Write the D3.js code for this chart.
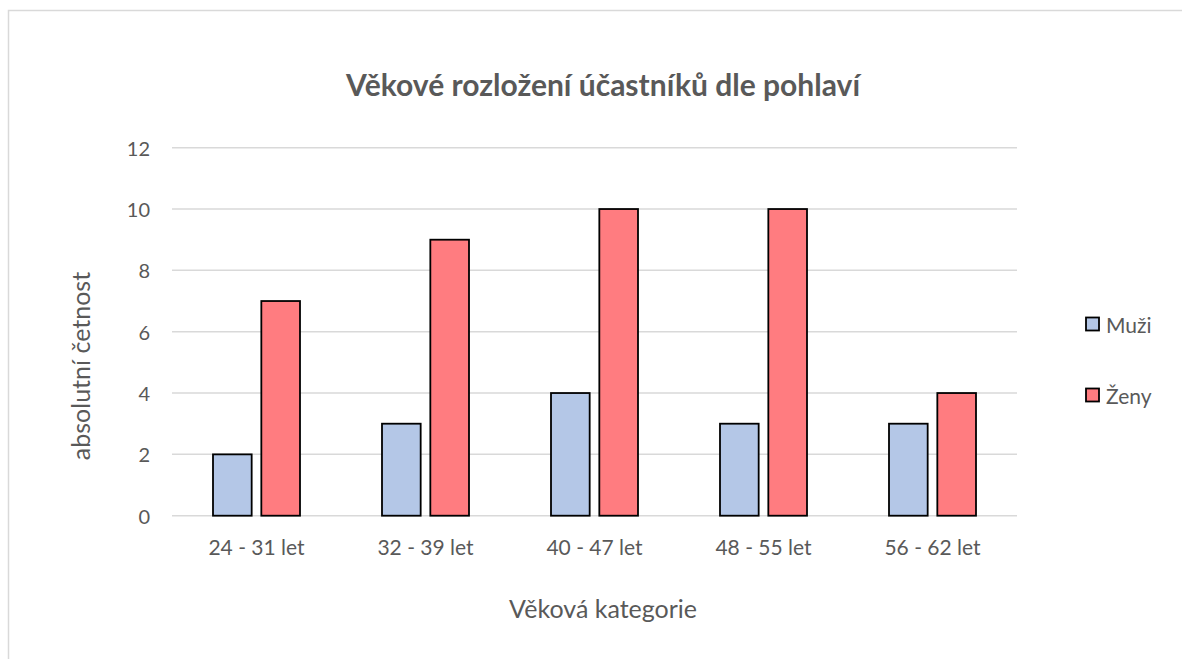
<!DOCTYPE html>
<html lang="cs">
<head>
<meta charset="UTF-8">
<title>Věkové rozložení účastníků dle pohlaví</title>
<style>
    body { margin: 0; background: #fff; }
    svg text { font-family: Lato, "Open Sans", sans-serif; fill: #595959; }
</style>
</head>
<body>
<div id="chart"></div>
<script src="https://d3js.org/d3.v7.min.js"></script>
<script>
    const categories = ["24 - 31 let", "32 - 39 let", "40 - 47 let", "48 - 55 let", "56 - 62 let"];
    const seriesNames = ["Muži", "Ženy"];
    const muzi = [2, 3, 4, 3, 3];
    const zeny = [7, 9, 10, 10, 4];
    const yTicks = [0, 2, 4, 6, 8, 10, 12];
    const colors = ["#B4C7E7", "#FF7C80"];

    const W = 1182, H = 659;
    const plot = { left: 172, right: 1017, top: 147.7, bottom: 515.7 };

    const svg = d3.select("#chart").append("svg")
        .attr("width", W).attr("height", H);

    // chart border (only top and left are visible in the original)
    svg.append("rect")
        .attr("x", 8.5).attr("y", 10.5)
        .attr("width", 1200).attr("height", 700)
        .attr("fill", "none").attr("stroke", "#d9d9d9").attr("stroke-width", 1.5);

    const x0 = d3.scaleBand().domain(categories).range([plot.left, plot.right]);
    const groupW = 87;
    const x1 = d3.scaleBand().domain(seriesNames).range([0, groupW]).paddingInner(0.2);
    const y = d3.scaleLinear().domain([0, 12]).range([plot.bottom, plot.top]);

    // gridlines
    svg.append("g").selectAll("line").data(yTicks).join("line")
        .attr("x1", plot.left).attr("x2", plot.right)
        .attr("y1", d => y(d)).attr("y2", d => y(d))
        .attr("stroke", "#d9d9d9").attr("stroke-width", 1.5);

    // y tick labels
    svg.append("g").selectAll("text").data(yTicks).join("text")
        .attr("x", 150).attr("y", d => y(d))
        .attr("text-anchor", "end").attr("dominant-baseline", "central")
        .style("font-size", "20px")
        .text(d => d);

    // bars
    const data = categories.map((c, i) => ({ cat: c, values: [muzi[i], zeny[i]] }));
    const groups = svg.append("g").selectAll("g").data(data).join("g")
        .attr("transform", d => "translate(" + (x0(d.cat) + (x0.bandwidth() - groupW) / 2) + ",0)");
    groups.selectAll("rect").data(d => d.values.map((v, j) => ({ s: seriesNames[j], v: v, j: j }))).join("rect")
        .attr("x", d => x1(d.s))
        .attr("y", d => y(d.v))
        .attr("width", x1.bandwidth())
        .attr("height", d => y(0) - y(d.v))
        .attr("fill", d => colors[d.j])
        .attr("stroke", "#000").attr("stroke-width", 1.8);

    // category labels
    svg.append("g").selectAll("text").data(categories).join("text")
        .attr("x", d => x0(d) + x0.bandwidth() / 2)
        .attr("y", 546)
        .attr("text-anchor", "middle").attr("dominant-baseline", "central")
        .style("font-size", "21px")
        .text(d => d);

    // title
    svg.append("text")
        .attr("x", 603).attr("y", 84)
        .attr("text-anchor", "middle").attr("dominant-baseline", "central")
        .style("font-size", "30px").style("font-weight", "bold")
        .text("Věkové rozložení účastníků dle pohlaví");

    // axis titles
    svg.append("text")
        .attr("x", 603).attr("y", 608)
        .attr("text-anchor", "middle").attr("dominant-baseline", "central")
        .style("font-size", "25px")
        .text("Věková kategorie");
    svg.append("text")
        .attr("transform", "translate(80,366) rotate(-90)")
        .attr("text-anchor", "middle").attr("dominant-baseline", "central")
        .style("font-size", "25px")
        .text("absolutní četnost");

    // legend
    const legend = svg.append("g").selectAll("g").data(seriesNames).join("g")
        .attr("transform", (d, i) => "translate(1086," + (324 + i * 71) + ")");
    legend.append("rect")
        .attr("x", 0).attr("y", -6.5).attr("width", 13).attr("height", 13)
        .attr("fill", (d, i) => colors[i]).attr("stroke", "#000").attr("stroke-width", 1.8);
    legend.append("text")
        .attr("x", 20).attr("y", 0).attr("dominant-baseline", "central")
        .style("font-size", "21px")
        .text(d => d);
</script>
</body>
</html>
